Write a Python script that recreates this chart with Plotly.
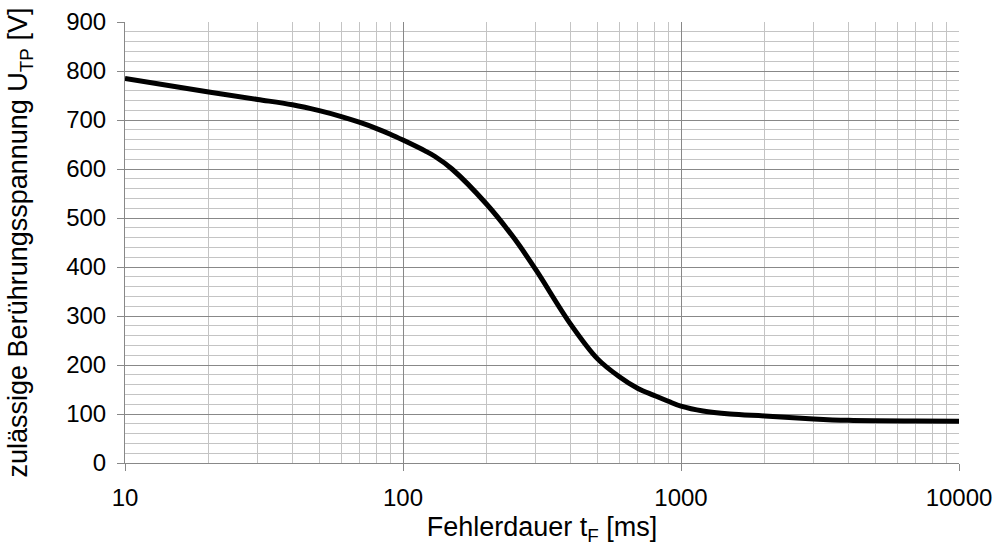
import plotly.graph_objects as go

# Fehlerdauer t_F [ms]
t_ms = [10, 20, 30, 40, 50, 60, 70, 80, 90, 100, 120, 130, 150, 200, 250, 300,
        400, 500, 600, 700, 800, 900, 1000, 1200, 1500, 2000, 3000, 4000, 5000, 7000, 10000]
# zulässige Berührungsspannung U_TP [V]
u_tp = [785, 757, 742, 731, 719, 707, 695, 683, 671, 659, 637, 626, 600, 528, 460, 395,
        284, 213, 176, 152, 138, 126, 116, 106, 100, 96, 90, 87, 86, 85.5, 85]

x_tickvals = [10, 100, 1000, 10000]
x_ticktext = ["10", "100", "1000", "10000"]

FONT = "Liberation Sans, Arial, sans-serif"
MAJOR = "#888888"
MINOR = "#c4c4c4"

fig = go.Figure()
fig.add_trace(go.Scatter(
    x=t_ms, y=u_tp, mode="lines",
    line=dict(color="black", width=5, shape="spline", smoothing=1.0),
    showlegend=False, hoverinfo="x+y",
))

fig.update_layout(
    width=999, height=546,
    margin=dict(l=125, r=40, t=22, b=83, autoexpand=False),
    paper_bgcolor="white", plot_bgcolor="white",
    font=dict(family=FONT, size=24, color="black"),
    xaxis=dict(
        type="log", range=[1, 4], automargin=False,
        tickvals=x_tickvals, ticktext=x_ticktext,
        showgrid=True, gridcolor=MAJOR, gridwidth=1,
        minor=dict(dtick="D1", showgrid=True, gridcolor=MINOR, gridwidth=1, ticks=""),
        ticks="outside", ticklen=7, tickcolor=MAJOR, tickwidth=1,
        showline=True, linecolor=MAJOR, linewidth=1,
        ticklabelstandoff=6,
        title=dict(text="Fehlerdauer t<sub>F</sub> [ms]", font=dict(size=27), standoff=23),
        zeroline=False,
    ),
    yaxis=dict(
        range=[0, 900], dtick=100, tick0=0, automargin=False,
        showgrid=True, gridcolor=MAJOR, gridwidth=1,
        minor=dict(dtick=20, showgrid=True, gridcolor=MINOR, gridwidth=1, ticks=""),
        ticks="outside", ticklen=7, tickcolor=MAJOR, tickwidth=1,
        showline=True, linecolor=MAJOR, linewidth=1,
        ticklabelstandoff=6,
        title=dict(text="zulässige Berührungsspannung U<sub>TP</sub> [V]", font=dict(size=27), standoff=30),
        zeroline=False,
    ),
)

fig.write_html(
    "out.html",
    config={"displayModeBar": False},
    post_script="document.body.style.margin='0';document.body.style.overflow='hidden';",
)
